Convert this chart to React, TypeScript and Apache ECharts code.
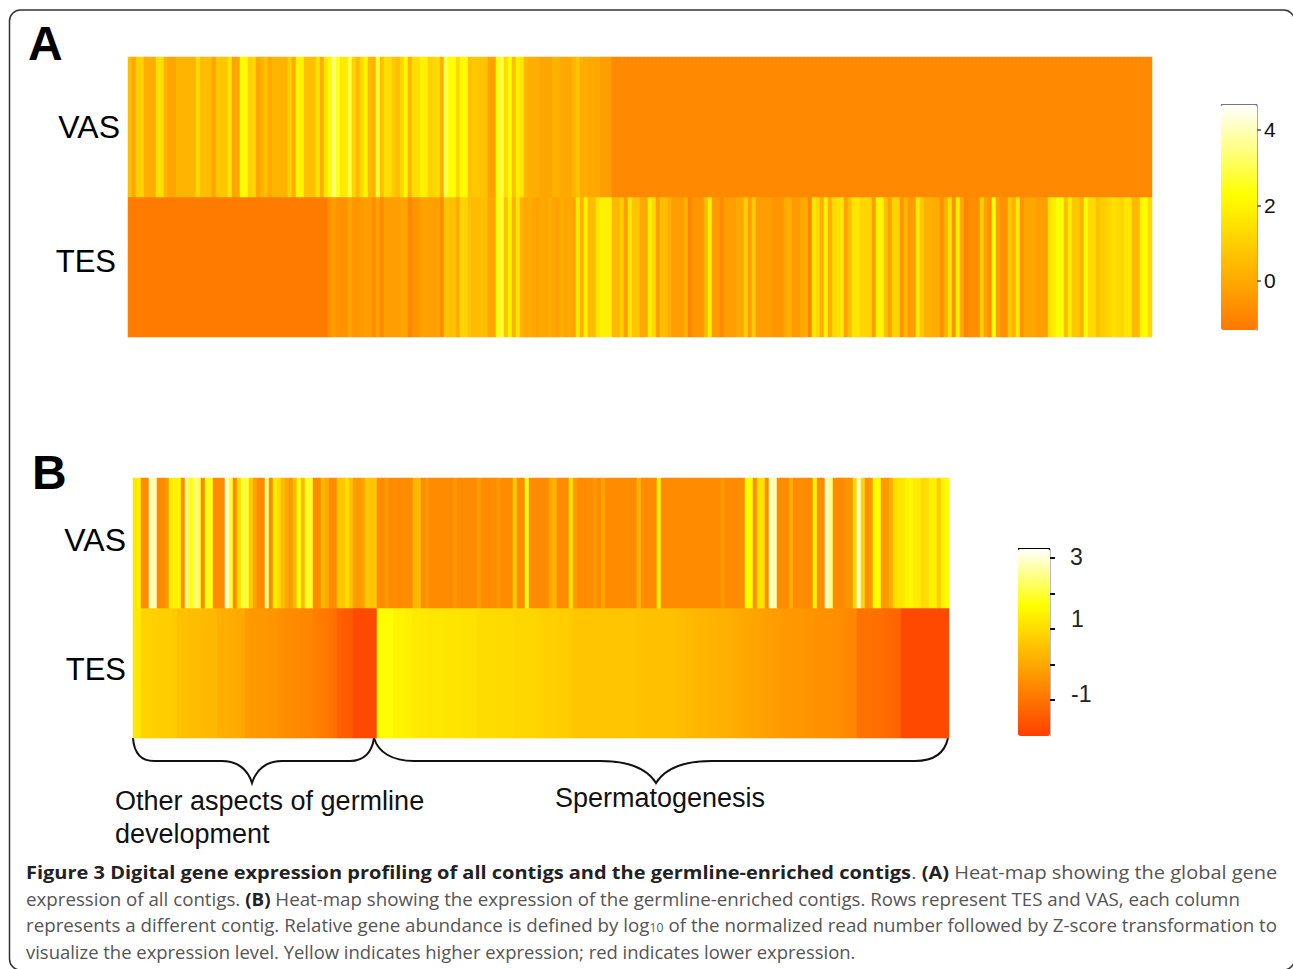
import React, { useEffect, useRef } from "react";
import * as echarts from "echarts";

const rows = ["TES", "VAS"];

const vasA = [
  .5,0,1,1.1,.1,.1,.1,1.4,1.4,.2,-.1,-.1,.3,.3,.3,.3,
  .3,1.3,.5,.5,.5,-.1,.8,.8,.8,1.5,-.1,-.1,2.2,2.2,1,1.2,
  -.1,.2,.6,0,.3,.3,.3,.3,1,.1,2,2,.6,.6,.6,1.5,
  .1,1.6,2.2,3.4,2.5,1.7,1.7,2.9,1.1,.4,1.3,2,.4,.2,2.8,.6,
  1.4,1.4,.8,.5,1.2,2.1,.3,1.4,1.4,1.9,1.9,1,1.2,1.4,.1,3,
  2.3,2.3,1.3,2.2,2.2,.6,.8,.8,.7,.6,-.2,-.2,2.4,2.9,1.4,2.3,
  .6,1.9,1.6,.4,.1,.1,.1,-.1,-.1,-.1,.2,.2,0,0,0,.3,
  .7,.1,.1,0,0,0,-.3,-.3,-.3,-.85,-.85,-.85,-.85,-.85,-.85,-.85,
  -.85,-.85,-.85,-.85,-.85,-.85,-.85,-.85,-.85,-.85,-.85,-.85,-.85,-.85,-.85,-.85,
  -.85,-.85,-.85,-.85,-.85,-.85,-.85,-.85,-.85,-.85,-.85,-.85,-.85,-.85,-.85,-.85,
  -.85,-.85,-.85,-.85,-.85,-.85,-.85,-.85,-.85,-.85,-.85,-.85,-.85,-.85,-.85,-.85,
  -.85,-.85,-.85,-.85,-.85,-.85,-.85,-.85,-.85,-.85,-.85,-.85,-.85,-.85,-.85,-.85,
  -.85,-.85,-.85,-.85,-.85,-.85,-.85,-.85,-.85,-.85,-.85,-.85,-.85,-.85,-.85,-.85,
  -.85,-.85,-.85,-.85,-.85,-.85,-.85,-.85,-.85,-.85,-.85,-.85,-.85,-.85,-.85,-.85,
  -.85,-.85,-.85,-.85,-.85,-.85,-.85,-.85,-.85,-.85,-.85,-.85,-.85,-.85,-.85,-.85,
  -.85,-.85,-.85,-.85,-.85,-.85,-.85,-.85,-.85,-.85,-.85,-.85,-.85,-.85,-.85,-.85,
];

const tesA = [
  -1.2,-1.2,-1.2,-1.2,-1.2,-1.2,-1.2,-1.2,-1.2,-1.2,-1.2,-1.2,-1.2,-1.2,-1.2,-1.2,
  -1.2,-1.2,-1.2,-1.2,-1.2,-1.2,-1.2,-1.2,-1.2,-1.2,-1.2,-1.2,-1.2,-1.2,-1.2,-1.2,
  -1.2,-1.2,-1.2,-1.2,-1.2,-1.2,-1.2,-1.2,-1.2,-1.2,-1.2,-1.2,-1.2,-1.2,-1.2,-1.2,
  -1.2,-1.2,-.6,-.3,-.6,-.6,-.6,-.1,-.5,-.5,-.4,-.3,-.3,-.7,-.2,-.8,
  -.3,-.3,-.3,-.3,-.1,-.2,-.9,-.5,-.5,-.2,-.2,-.2,-.3,-.2,-.8,.7,
  .6,.6,.1,1.1,1.1,.6,.5,.5,.6,.5,-.1,-.1,2.3,2.8,.7,2,
  .3,1.6,.2,0,.1,-.1,-.2,0,-.1,.1,-.1,-.2,.1,-.1,0,-.2,
  1.7,.2,1.9,.5,.5,1.6,1.9,1.9,1.9,.4,.4,1,-.3,1.6,.7,.7,
  0,0,1.9,1.3,-.3,.6,.5,.1,-.3,-.3,-.3,.2,-1,-.5,-.5,-.5,
  .4,1.9,-.4,-.4,-.8,-.3,-.3,-.3,0,0,1,-.3,.9,-.3,-.3,-.3,
  -.3,-.5,-.5,-.5,0,.2,-.4,-.4,-.1,.1,-.9,1.7,1.2,.1,2,.1,
  1.3,1.4,1.6,-.2,.6,1.6,1.6,1.2,1.2,1.2,-.3,2,2,.6,-.2,1.1,
  1.1,-.5,.3,-.4,-.3,1.7,.8,.2,.2,.1,.1,-.7,.2,1.5,-.6,1.9,
  0,-1,-.7,-.7,-.7,1,-.2,-.6,2.3,-.2,-.6,-.6,.8,.2,1.7,-.6,
  -.1,-.1,-.1,-.3,-.3,-.3,1.5,1.8,2.3,2.3,.5,1.8,.8,.8,.2,2.2,
  1.3,1.3,.6,1,1,1.2,1.5,1.3,1.2,1.6,1.6,.4,.4,2,2.2,1.3,
];

const vasB = [
  1.2,1.4,-.55,-.55,2.8,2.8,-.55,-.55,-.3,1.4,1.4,1.5,-.55,2.5,1.7,2.4,
  2.2,-.55,1.8,1.8,-.55,-.55,-.55,3,2,-.55,1,2,2,.7,-.1,-.55,
  -.55,2.5,-.55,1.3,1,.3,0,-.3,.4,1.7,.3,1.9,1.9,-.55,-.55,.3,
  0,-.55,-.55,.6,.6,1,.5,-.2,-.3,-.1,.6,.6,.6,-.55,-.55,-.3,
  -.55,-.55,-.55,-.55,-.55,-.55,.3,.3,-.55,-.35,-.55,-.55,-.55,-.55,-.55,-.55,
  -.3,-.55,-.55,-.55,-.55,-.55,-.2,-.55,-.55,-.55,-.55,-.35,-.55,-.55,-.55,.7,
  -.55,-.55,1.8,-.55,-.55,-.55,-.55,-.55,0,.2,-.55,-.55,-.55,1.2,-.2,-.55,
  -.55,-.55,-.55,-.3,-.55,-.1,-.55,-.55,-.55,-.55,-.55,-.55,-.55,-.55,.3,-.55,
  -.55,-.55,-.55,1.5,-.55,-.55,-.55,-.55,-.55,-.55,-.55,-.55,-.55,-.55,-.55,-.55,
  -.55,-.55,-.55,-.3,-.55,-.55,-.55,-.55,-.55,1.65,1.65,-.55,1.1,1.1,-.55,2.8,
  2.8,-.55,-.55,-.55,.1,-.55,-.55,-.55,-.55,-.55,1.6,-.55,-.55,3,2.4,-.55,
  -.55,-.55,-.4,-.4,1,3,.8,-.45,-.3,1.65,1.65,-.3,-.3,.1,1,1.15,
  1.15,1.5,1.5,1.3,1.3,1,1,1.4,1.4,.7,1.4,1.65,
];

const tesB = [
  1.2,1.2,.8,.8,.8,.75,.75,.7,.7,.7,.65,.5,.45,.45,.4,.4,
  .4,.35,.35,.3,.3,.15,.1,.1,.05,.05,0,0,-.25,-.3,-.3,-.35,
  -.35,-.35,-.4,-.4,-.45,-.5,-.55,-.55,-.6,-.6,-.65,-.65,-.7,-.8,-.85,-.9,
  -.95,-1,-1.1,-1.4,-1.45,-1.5,-1.55,-1.85,-1.85,-1.85,-1.85,-1.85,-1.85,1.65,1.65,1.65,
  1.65,1.45,1.45,1.45,1.4,1.4,1.25,1.25,1.2,1.2,1.2,1.2,1.2,1.2,1.15,1.15,
  1.15,1.15,1.1,1.1,1.1,1.1,1,1,1,1,1,.95,.95,.95,.95,.9,
  .9,.9,.9,.9,.9,.8,.8,.75,.75,.75,.7,.7,.7,.65,.55,.55,
  .55,.55,.55,.55,.55,.55,.55,.55,.55,.55,.55,.55,.55,.55,.5,.5,
  .45,.45,.45,.45,.45,.45,.45,.45,.4,.4,.35,.35,.3,.3,.25,.25,
  .2,.2,.2,.15,.15,.1,.05,.05,0,-.05,-.05,-.1,-.1,-.15,-.2,-.2,
  -.25,-.25,-.3,-.3,-.3,-.35,-.35,-.35,-.4,-.4,-.4,-.45,-.45,-.45,-.45,-.5,
  -.5,-.55,-.6,-.65,-.65,-1,-1,-1.05,-1.05,-1.1,-1.1,-1.15,-1.2,-1.25,-1.3,-1.3,
  -1.85,-1.85,-1.85,-1.85,-1.85,-1.85,-1.85,-1.85,-1.85,-1.85,-1.85,-1.85,
];

const barATicks = [0, 2, 4];
const barBTicks = [-1, 0, 1, 2, 3];
const barBLabels = [-1, 1, 3];

const scaleA = { min: -1.3, max: 4.66, colors: ["#ff7800", "#ffa500", "#ffd200", "#ffff00", "#ffff80", "#ffffff"] };
const scaleB = {
  min: -2.02,
  max: 3.25,
  colors: ["#ff4000", "#ff5b00", "#ff7600", "#ff9200", "#ffad00", "#ffc800", "#ffe400", "#ffff00", "#ffff55", "#ffffaa", "#ffffff"],
};

const captionFont = '"Open Sans"';
const bracketLeft = "M133 738 C134 752 140 761 154 761 L222 761 C238 761 248 770 252 783 C256 770 266 761 282 761 L350 761 C364 761 372 752 374 738";
const bracketRight = "M374 738 C378 752 392 761 414 761 L600 761 C630 761 648 770 656 783 C664 770 682 761 712 761 L915 761 C935 761 945 752 948 738";
echarts.graphic.registerShape("bracketLeft", echarts.graphic.extendPath(bracketLeft, {}));
echarts.graphic.registerShape("bracketRight", echarts.graphic.extendPath(bracketRight, {}));

const cells = (tes: number[], vas: number[]) => [
  ...tes.map((v, i) => [i, 0, v]),
  ...vas.map((v, i) => [i, 1, v]),
];

const hiddenX = (n: number, gridIndex: number) => ({
  type: "category" as const,
  gridIndex,
  data: Array.from({ length: n }, (_, i) => String(i + 1)),
  show: false,
});

const rowAxis = (gridIndex: number, margin: number, rich: any, formatter: (v: string) => string) => ({
  type: "category" as const,
  gridIndex,
  data: rows,
  axisLine: { show: false },
  axisTick: { show: false },
  splitLine: { show: false },
  axisLabel: {
    margin,
    formatter,
    rich,
    color: "#000",
    fontFamily: "Liberation Sans",
    fontSize: 31,
  },
});

const heat = (xAxisIndex: number, yAxisIndex: number, data: number[][]) => ({
  type: "heatmap" as const,
  xAxisIndex,
  yAxisIndex,
  data,
  progressive: 0,
  emphasis: { disabled: true },
  itemStyle: { borderWidth: 0 },
});

const captionRich = {
  b: { fontFamily: captionFont, fontWeight: "bold", fontSize: 18.4, fill: "#222" },
  r: { fontFamily: captionFont, fontSize: 18.4, fill: "#555" },
  s: { fontFamily: captionFont, fontSize: 12, fill: "#555", verticalAlign: "bottom" },
};

function buildOption() {
  const label = (extra: any = {}) => ({ fontFamily: "Liberation Sans", fontSize: 31, color: "#000", ...extra });
  return {
    animation: false,
    backgroundColor: "#fff",
    grid: [
      { left: 128, top: 57, width: 1024, height: 280 },
      { left: 133, top: 478, width: 816, height: 260 },
      { left: 1221, top: 105, width: 36, height: 225 },
      { left: 1018, top: 549, width: 32, height: 187 },
    ],
    xAxis: [
      hiddenX(vasA.length, 0),
      hiddenX(vasB.length, 1),
      { type: "value", gridIndex: 2, show: false },
      { type: "value", gridIndex: 3, show: false },
    ],
    yAxis: [
      rowAxis(0, 8, { v: label({ fontSize: 32 }), t: label({ padding: [0, 4, 12, 0] }) }, (v) => (v === "VAS" ? `{v|${v}}` : `{t|${v}}`)),
      rowAxis(1, 7, { v: label({ fontSize: 32, padding: [0, 0, 6, 0] }), t: label({ padding: [0, 0, 8, 0] }) }, (v) => (v === "VAS" ? `{v|${v}}` : `{t|${v}}`)),
      {
        type: "value",
        gridIndex: 2,
        position: "right",
        min: scaleA.min,
        max: scaleA.max,
        splitLine: { show: false },
        axisLine: { show: true, onZero: false, lineStyle: { color: "#8a8a8a", width: 1.5 } },
        axisTick: { show: true, length: 4, lineStyle: { color: "#555", width: 1.5 }, customValues: barATicks },
        axisLabel: { margin: 7, color: "#111", fontFamily: "Liberation Sans", fontSize: 21, customValues: barATicks },
      },
      {
        type: "value",
        gridIndex: 3,
        position: "right",
        min: scaleB.min,
        max: scaleB.max,
        splitLine: { show: false },
        axisLine: { show: true, onZero: false, lineStyle: { color: "#b8bcc4", width: 1 } },
        axisTick: { show: true, length: 5, lineStyle: { color: "#111", width: 2 }, customValues: barBTicks },
        axisLabel: {
          margin: 20,
          customValues: barBLabels,
          color: "#222",
          fontFamily: "Liberation Sans",
          fontSize: 23,
          formatter: (v: number) => (v === 3 ? `{a|${v}}` : v === 1 ? `{b|${v}}` : `{c|${v}}`),
          rich: {
            a: { fontFamily: "Liberation Sans", fontSize: 23, color: "#222", padding: [0, 0, 2, 0] },
            b: { fontFamily: "Liberation Sans", fontSize: 23, color: "#222", padding: [0, 0, 20, 1] },
            c: { fontFamily: "Liberation Sans", fontSize: 23, color: "#222", padding: [0, 0, 12, 1] },
          },
        },
      },
    ],
    visualMap: [
      {
        type: "continuous",
        seriesIndex: 0,
        dimension: 2,
        min: scaleA.min,
        max: scaleA.max,
        calculable: false,
        left: 1221,
        top: 105,
        padding: 0,
        itemWidth: 36,
        itemHeight: 225,
        text: ["", ""],
        showLabel: false,
        inRange: { color: scaleA.colors },
      },
      {
        type: "continuous",
        seriesIndex: 1,
        dimension: 2,
        min: scaleB.min,
        max: scaleB.max,
        calculable: false,
        left: 1018,
        top: 549,
        padding: 0,
        itemWidth: 32,
        itemHeight: 187,
        text: ["", ""],
        showLabel: false,
        inRange: { color: scaleB.colors },
      },
    ],
    series: [heat(0, 0, cells(tesA, vasA)), heat(1, 1, cells(tesB, vasB))],
    graphic: [
      {
        type: "rect",
        silent: true,
        shape: { x: 9.5, y: 10, width: 1285, height: 960, r: 11 },
        style: { fill: "none", stroke: "#333", lineWidth: 1.5 },
      },
      { type: "text", x: 28, y: 43, style: { text: "A", fill: "#000", font: 'bold 48px "Liberation Sans"', textVerticalAlign: "middle" } },
      { type: "text", x: 32, y: 472, style: { text: "B", fill: "#000", font: 'bold 48px "Liberation Sans"', textVerticalAlign: "middle" } },
      { type: "line", shape: { x1: 1221, y1: 105, x2: 1257, y2: 105 }, style: { stroke: "#777", lineWidth: 2 } },
      { type: "line", shape: { x1: 1018, y1: 549, x2: 1050, y2: 549 }, style: { stroke: "#000", lineWidth: 2 } },
      { type: "bracketLeft", x: 0, y: 0, style: { fill: "none", stroke: "#111", lineWidth: 2 } },
      { type: "bracketRight", x: 0, y: 0, style: { fill: "none", stroke: "#111", lineWidth: 2 } },
      { type: "text", x: 115, y: 801, style: { text: "Other aspects of germline", fill: "#111", font: '27px "Liberation Sans"', textVerticalAlign: "middle" } },
      { type: "text", x: 115, y: 834, style: { text: "development", fill: "#111", font: '27px "Liberation Sans"', textVerticalAlign: "middle" } },
      { type: "text", x: 555, y: 798, style: { text: "Spermatogenesis", fill: "#111", font: '27px "Liberation Sans"', textVerticalAlign: "middle" } },
      {
        type: "text",
        x: 26,
        y: 872,
        scaleX: 1.087,
        style: {
          text: "{b|Figure 3 Digital gene expression profiling of all contigs and the germline-enriched contigs}{r|. }{b|(A)}{r| Heat-map showing the global gene}",
          textVerticalAlign: "middle",
          rich: captionRich,
        },
      },
      {
        type: "text",
        x: 26,
        y: 899,
        scaleX: 1.018,
        style: {
          text: "{r|expression of all contigs. }{b|(B)}{r| Heat-map showing the expression of the germline-enriched contigs. Rows represent TES and VAS, each column}",
          textVerticalAlign: "middle",
          rich: captionRich,
        },
      },
      {
        type: "text",
        x: 26,
        y: 925,
        scaleX: 1.019,
        style: {
          text: "{r|represents a different contig. Relative gene abundance is defined by log}{s|10}{r| of the normalized read number followed by Z-score transformation to}",
          textVerticalAlign: "middle",
          rich: captionRich,
        },
      },
      {
        type: "text",
        x: 26,
        y: 952,
        scaleX: 1.003,
        style: {
          text: "visualize the expression level. Yellow indicates higher expression; red indicates lower expression.",
          fill: "#555",
          font: `18.4px ${captionFont}`,
          textVerticalAlign: "middle",
        },
      },
    ],
  };
}

export default function App() {
  const ref = useRef<HTMLDivElement>(null);
  useEffect(() => {
    const chart = echarts.init(ref.current!, undefined, { renderer: "svg" });
    chart.setOption(buildOption() as any);
    return () => chart.dispose();
  }, []);
  return <div ref={ref} style={{ position: "absolute", left: 0, top: 0, width: 1293, height: 969 }} />;
}
